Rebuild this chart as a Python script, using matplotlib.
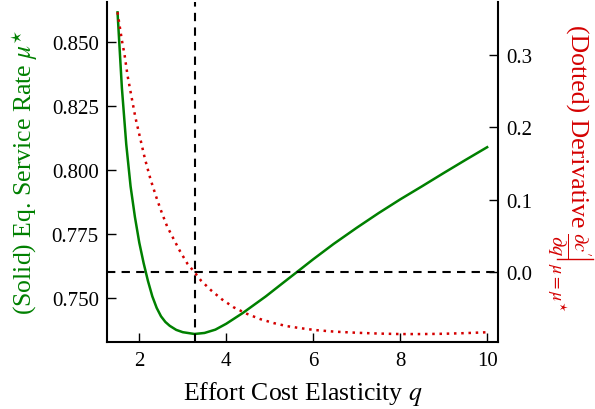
import matplotlib
matplotlib.use("Agg")
import matplotlib.pyplot as plt
from matplotlib.lines import Line2D

plt.rcParams['font.family'] = ['Liberation Serif', 'DejaVu Serif']
plt.rcParams['mathtext.fontset'] = 'stix'

# values
q_solid = [1.50, 1.60, 1.70, 1.80, 1.90, 2.00, 2.10, 2.20, 2.30, 2.40, 2.50, 2.60,
           2.70, 2.85, 3.00, 3.27, 3.50, 3.75, 4.00, 4.38, 4.91, 5.30, 5.70, 6.00,
           6.47, 7.00, 7.50, 8.00, 8.50, 9.00, 9.50, 10.0]
mu_star = [0.8615, 0.8320, 0.8100, 0.7935, 0.7815, 0.7715, 0.7635, 0.7565, 0.7505,
           0.7460, 0.7427, 0.7405, 0.7390, 0.7374, 0.7365, 0.7358, 0.7362, 0.7375,
           0.7398, 0.7440, 0.7505, 0.7557, 0.7610, 0.7650, 0.7710, 0.7773, 0.7830,
           0.7884, 0.7935, 0.7987, 0.8038, 0.8088]

q_dot = [1.50, 1.60, 1.66, 1.73, 1.82, 1.91, 2.02, 2.13, 2.26, 2.41, 2.52, 2.64,
         2.79, 2.94, 3.11, 3.27, 3.42, 3.65, 3.90, 4.17, 4.47, 4.78, 5.09, 5.39,
         5.70, 6.05, 6.50, 7.00, 7.50, 8.00, 8.50, 9.00, 9.50, 10.0]
deriv = [0.3592, 0.3204, 0.3010, 0.2718, 0.2427, 0.2140, 0.1853, 0.1567, 0.1280,
         0.1003, 0.0818, 0.0633, 0.0458, 0.0286, 0.0115, 0.0000, -0.0116, -0.0250,
         -0.0375, -0.0485, -0.0574, -0.0648, -0.0703, -0.0745, -0.0773, -0.0800,
         -0.0822, -0.0837, -0.0848, -0.0855, -0.0855, -0.0851, -0.0842, -0.0830]

q_cross = 3.27
x_ticks = [2, 4, 6, 8, 10]
left_ticks = [0.750, 0.775, 0.800, 0.825, 0.850]
right_ticks = [0.0, 0.1, 0.2, 0.3]

green = '#008000'
red = '#d40000'

W, H = 595, 410
fig = plt.figure(figsize=(W / 100, H / 100), dpi=100)
ax = fig.add_axes([0.180, 0.163, 0.657, 0.830])
ax2 = ax.twinx()

ax.plot(q_solid, mu_star, color=green, lw=1.8, zorder=3)
ax2.plot(q_dot, deriv, color=red, lw=1.8, linestyle=(0, (1, 1.9)), zorder=3)
ax2.axhline(0.0, color='black', lw=1.5, dashes=(4, 3), zorder=2)
ax2.axvline(q_cross, color='black', lw=1.5, dashes=(4, 3), zorder=2)

ax.set_xlim(1.26, 10.25)
ax.set_ylim(0.7326, 0.8656)
ax2.set_ylim(-0.0967, 0.3735)

ax.set_xticks(x_ticks)
ax.set_yticks(left_ticks)
ax.set_yticklabels(['%.3f' % v for v in left_ticks])
ax2.set_yticks(right_ticks)
ax2.set_yticklabels(['%.1f' % v for v in right_ticks])

for a in (ax, ax2):
    a.spines['top'].set_visible(False)
    for s in ('left', 'right', 'bottom'):
        a.spines[s].set_linewidth(1.5)
    a.tick_params(direction='in', length=6.5, width=1.0, labelsize=15, pad=6)
ax.spines['right'].set_visible(False)
ax2.spines['left'].set_visible(False)
ax2.spines['bottom'].set_visible(False)

ax.set_xlabel(r'Effort Cost Elasticity $q$', fontsize=18.5, labelpad=7)
fig.text(0.042, 0.58, r'(Solid) Eq. Service Rate $\mu^{\star}$', fontsize=18.5,
         color=green, rotation=90, ha='center', va='center')

# right label: text, fraction, evaluation bar and subscript, read top to bottom
rot = dict(rotation=270, rotation_mode='anchor', ha='left', va='baseline', color=red)
xb = 570
t1 = fig.text(xb / W, 1 - 25 / H, '(Dotted) Derivative', fontsize=18.5, **rot)
fig.canvas.draw()
rend = fig.canvas.get_renderer()
y1 = t1.get_window_extent(rend).y0 - 5
t2 = fig.text(563 / W, y1 / H, r'$\frac{\partial c^{\prime}}{\partial q}$', fontsize=21, **rot)
y2 = t2.get_window_extent(rend).y0 - 1
fig.add_artist(Line2D([557 / W, 593 / W], [y2 / H, y2 / H], transform=fig.transFigure,
                      color=red, lw=1.0))
fig.text(551 / W, (y2 - 3) / H, r'$\mu=\mu^{\star}$', fontsize=13, **rot)

fig.savefig('out.png', dpi=100)
